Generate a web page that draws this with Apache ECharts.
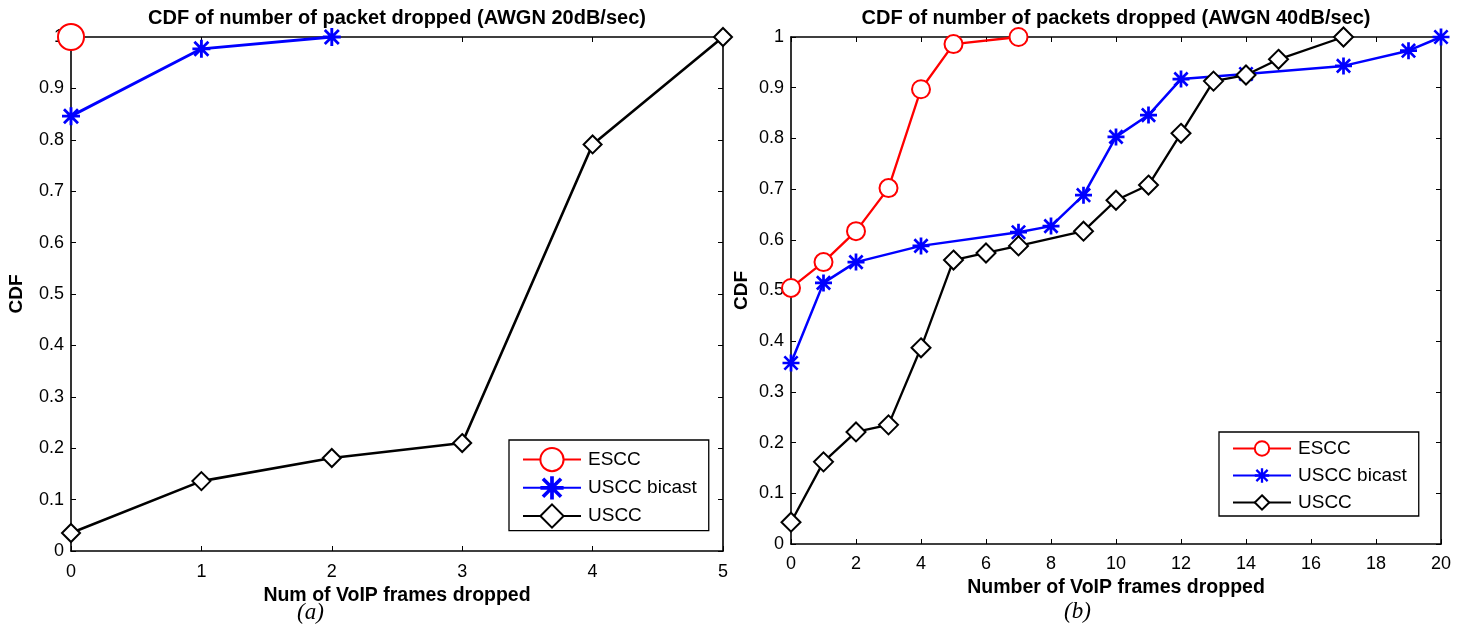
<!DOCTYPE html>
<html>
<head>
<meta charset="utf-8">
<script src="https://cdn.jsdelivr.net/npm/echarts@6/dist/echarts.min.js"></script>
<style>
html,body{margin:0;padding:0;background:#fff;}
#main{width:1465px;height:626px;}
</style>
</head>
<body>
<div id="main"></div>
<script>
// ---- data (a) AWGN 20dB/sec ----
const leftTitle = 'CDF of number of packet dropped (AWGN 20dB/sec)';
const leftXName = 'Num of VoIP frames dropped';
const leftEsccX = [0];
const leftEsccY = [1.0];
const leftBicastX = [0, 1, 2];
const leftBicastY = [0.846, 0.977, 1.0];
const leftUsccX = [0, 1, 2, 3, 4, 5];
const leftUsccY = [0.035, 0.136, 0.181, 0.21, 0.791, 1.0];

// ---- data (b) AWGN 40dB/sec ----
const rightTitle = 'CDF of number of packets dropped (AWGN 40dB/sec)';
const rightXName = 'Number of VoIP frames dropped';
const rightEsccX = [0, 1, 2, 3, 4, 5, 7];
const rightEsccY = [0.505, 0.556, 0.617, 0.702, 0.897, 0.986, 1.0];
const rightBicastX = [0, 1, 2, 4, 7, 8, 9, 10, 11, 12, 14, 17, 19, 20];
const rightBicastY = [0.357, 0.515, 0.556, 0.588, 0.615, 0.627, 0.688, 0.803, 0.846, 0.917, 0.927, 0.943, 0.973, 1.0];
const rightUsccX = [0, 1, 2, 3, 4, 5, 6, 7, 9, 10, 11, 12, 13, 14, 15, 17];
const rightUsccY = [0.043, 0.162, 0.221, 0.235, 0.387, 0.560, 0.574, 0.588, 0.617, 0.678, 0.708, 0.81, 0.913, 0.925, 0.956, 1.0];

const seriesNames = ['ESCC', 'USCC bicast', 'USCC'];
const yLabel = 'CDF';
const subLabels = ['(a)', '(b)'];

const FONT = '"Liberation Sans", Arial, sans-serif';
const ASTERISK = 'path://M8.4 0L11.6 0L11.6 20L8.4 20Z M0 8.4L20 8.4L20 11.6L0 11.6Z M1.1 3.3L3.3 1.1L18.9 16.7L16.7 18.9Z M16.7 1.1L18.9 3.3L3.3 18.9L1.1 16.7Z';

function pairs(xs, ys) { return xs.map((x, i) => [x, ys[i]]); }

function xAxes(gi, max, interval, name, nameGap, margin) {
  return [{
    type: 'value', gridIndex: gi, min: 0, max: max, interval: interval, position: 'bottom',
    name: name, nameLocation: 'middle', nameGap: nameGap,
    nameTextStyle: { fontFamily: FONT, fontSize: 19.5, fontWeight: 'bold', color: '#000' },
    axisLine: { show: true, onZero: false, lineStyle: { color: '#000', width: 1.6 } },
    axisTick: { show: true, inside: true, length: 5, lineStyle: { color: '#000', width: 1 } },
    axisLabel: { show: true, margin: margin, fontFamily: FONT, fontSize: 18, color: '#000' },
    splitLine: { show: false }
  }, {
    type: 'value', gridIndex: gi, min: 0, max: max, interval: interval, position: 'top',
    axisLine: { show: true, onZero: false, lineStyle: { color: '#000', width: 1.6 } },
    axisTick: { show: true, inside: true, length: 5, lineStyle: { color: '#000', width: 1 } },
    axisLabel: { show: false }, splitLine: { show: false }
  }];
}
function yAxes(gi, nameGap) {
  return [{
    type: 'value', gridIndex: gi, min: 0, max: 1, interval: 0.1, position: 'left',
    name: yLabel, nameLocation: 'middle', nameGap: nameGap, nameRotate: 90,
    nameTextStyle: { fontFamily: FONT, fontSize: 19, fontWeight: 'bold', color: '#000' },
    axisLine: { show: true, onZero: false, lineStyle: { color: '#000', width: 1.6 } },
    axisTick: { show: true, inside: true, length: 5, lineStyle: { color: '#000', width: 1 } },
    axisLabel: { show: true, margin: 7, fontFamily: FONT, fontSize: 18, color: '#000',
      formatter: v => String(Math.round(v * 10) / 10) },
    splitLine: { show: false }
  }, {
    type: 'value', gridIndex: gi, min: 0, max: 1, interval: 0.1, position: 'right',
    axisLine: { show: true, onZero: false, lineStyle: { color: '#000', width: 1.6 } },
    axisTick: { show: true, inside: true, length: 5, lineStyle: { color: '#000', width: 1 } },
    axisLabel: { show: false }, splitLine: { show: false }
  }];
}

function lineSeries(name, data, xi, yi, color, symbol, size, width) {
  return {
    name: name, type: 'line', xAxisIndex: xi, yAxisIndex: yi, data: data,
    symbol: symbol, symbolSize: size, showAllSymbol: true, clip: false,
    lineStyle: { color: color, width: width },
    itemStyle: { color: color, borderWidth: 2.6 },
    emphasis: { disabled: true }, animation: false, z: 3
  };
}

const chart = echarts.init(document.getElementById('main'), null, { renderer: 'canvas' });
const option = {
  backgroundColor: '#fff',
  animation: false,
  title: [
    { text: leftTitle, left: 397, top: 8, textAlign: 'center', padding: 0,
      textStyle: { fontFamily: FONT, fontSize: 20, fontWeight: 'bold', color: '#000' } },
    { text: rightTitle, left: 1116, top: 8, textAlign: 'center', padding: 0,
      textStyle: { fontFamily: FONT, fontSize: 20, fontWeight: 'bold', color: '#000' } }
  ],
  grid: [
    { left: 71, right: 742, top: 37, bottom: 75, containLabel: false },
    { left: 791, right: 24, top: 37, bottom: 82, containLabel: false }
  ],
  xAxis: [].concat(xAxes(0, 5, 1, leftXName, 30, 12), xAxes(1, 20, 2, rightXName, 27, 11)),
  yAxis: [].concat(yAxes(0, 45), yAxes(1, 40)),
  legend: [
    { data: seriesNames, orient: 'vertical', left: 509, top: 440, itemWidth: 58, itemHeight: 29, itemGap: 4,
      padding: [7, 12, 2, 13], borderColor: '#000', borderWidth: 1.3, backgroundColor: '#fff',
      textStyle: { fontFamily: FONT, fontSize: 19, color: '#000', padding: [0, 0, 0, 2] }, selectedMode: false },
    { data: seriesNames, orient: 'vertical', left: 1219, top: 432, itemWidth: 58, itemHeight: 18, itemGap: 8,
      padding: [7, 12, 4, 13], borderColor: '#000', borderWidth: 1.3, backgroundColor: '#fff',
      textStyle: { fontFamily: FONT, fontSize: 19, color: '#000', padding: [0, 0, 0, 2] }, selectedMode: false }
  ],
  series: [
    lineSeries(seriesNames[0], pairs(leftEsccX, leftEsccY), 0, 0, '#ff0000', 'emptyCircle', 26, 2.6),
    lineSeries(seriesNames[1], pairs(leftBicastX, leftBicastY), 0, 0, '#0000ff', ASTERISK, 18, 2.9),
    lineSeries(seriesNames[2], pairs(leftUsccX, leftUsccY), 0, 0, '#000000', 'emptyDiamond', 18, 2.6),
    lineSeries(seriesNames[0], pairs(rightEsccX, rightEsccY), 2, 2, '#ff0000', 'emptyCircle', 18, 2.3),
    lineSeries(seriesNames[1], pairs(rightBicastX, rightBicastY), 2, 2, '#0000ff', ASTERISK, 17, 2.5),
    lineSeries(seriesNames[2], pairs(rightUsccX, rightUsccY), 2, 2, '#000000', 'emptyDiamond', 19, 2.3)
  ],
  graphic: [
    { type: 'text', left: 297, top: 601, style: { text: subLabels[0], font: 'italic 23px "Liberation Serif", "Times New Roman", serif', fill: '#000' } },
    { type: 'text', left: 1064, top: 600, style: { text: subLabels[1], font: 'italic 23px "Liberation Serif", "Times New Roman", serif', fill: '#000' } }
  ]
};
chart.setOption(option);
</script>
</body>
</html>
